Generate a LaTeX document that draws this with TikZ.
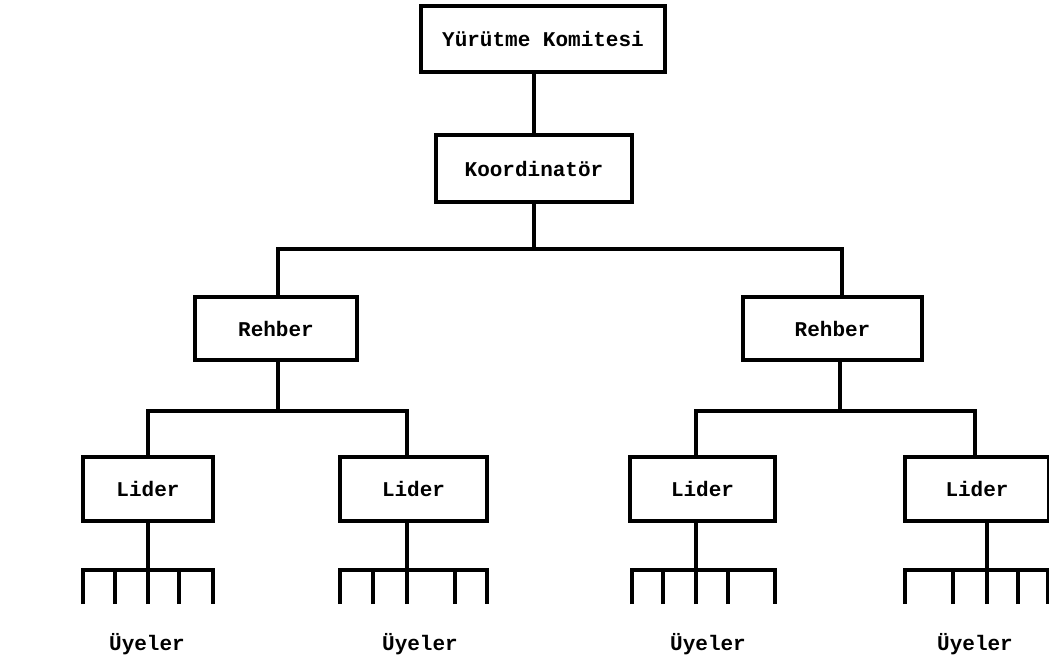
\documentclass[tikz,border=0pt]{standalone}
\usepackage{fontspec}
\setmonofont{Liberation Mono}
\newcommand\boxfont{\ttfamily\bfseries\fontsize{21}{24}\selectfont}
\tikzset{
  box/.style={draw, line width=4.5pt, inner sep=0pt, font=\boxfont},
  conn/.style={line width=3.5pt, line join=miter},
  uye/.style={font=\boxfont},
}
\begin{document}
\begin{tikzpicture}[x=1pt, y=-1pt]
  \useasboundingbox (0,0) rectangle (1049,660);

  \node[box, minimum width=244, minimum height=66] (kom)   at (543, 39)   {Yürütme Komitesi};
  \node[box, minimum width=196, minimum height=67] (koord) at (534, 168.5) {Koordinatör};

  \node[box, minimum width=162, minimum height=63] (reh1) at (276, 328.5) {Rehber};
  \node[box, minimum width=179, minimum height=63] (reh2) at (832.5, 328.5) {Rehber};

  \node[box, minimum width=130, minimum height=64] (lid1) at (148, 489)   {Lider};
  \node[box, minimum width=147, minimum height=64] (lid2) at (413.5, 489) {Lider};
  \node[box, minimum width=145, minimum height=64] (lid3) at (702.5, 489) {Lider};
  \node[box, minimum width=144, minimum height=64] (lid4) at (977, 489)   {Lider};

  \node[uye] (uye1) at (147, 644) {Üyeler};
  \node[uye] (uye2) at (420, 644) {Üyeler};
  \node[uye] (uye3) at (708, 644) {Üyeler};
  \node[uye] (uye4) at (975, 644) {Üyeler};

  % junctions
  \coordinate (j1) at (278, 249);
  \coordinate (j2) at (842, 249);
  \coordinate (k1) at (278, 411);
  \coordinate (k2) at (840, 411);

  % member combs
  \foreach \g/\xs in {1/{83,115,148,179,213}, 2/{340,373,407,455,487},
                      3/{632,663,696,728,775}, 4/{905,953,987,1018,1048}}{
    \foreach \x [count=\k] in \xs
      \coordinate (t\g-\k) at (\x, 604);
    \draw[conn] (t\g-1) |- (t\g-5 |- 0,570) -- (t\g-5);
    \foreach \k in {2,3,4}
      \draw[conn] (t\g-\k) -- (t\g-\k |- 0,570);
  }

  \draw[conn] (kom.south -| koord.north) -- (koord.north);
  \draw[conn] (koord.south) -- (koord.south |- j1);
  \draw[conn] (reh1.north -| j1) -- (j1) -- (j2) -- (reh2.north -| j2);

  \draw[conn] (reh1.south -| k1) -- (k1);
  \draw[conn] (lid1.north) |- (k1) -| (lid2.north -| t2-3);
  \draw[conn] (reh2.south -| k2) -- (k2);
  \draw[conn] (lid3.north -| t3-3) |- (k2) -| (lid4.north -| uye4);

  \foreach \g in {1,2,3,4}
    \draw[conn] (lid\g.south -| t\g-3) -- (t\g-3 |- 0,570);
\end{tikzpicture}
\end{document}
